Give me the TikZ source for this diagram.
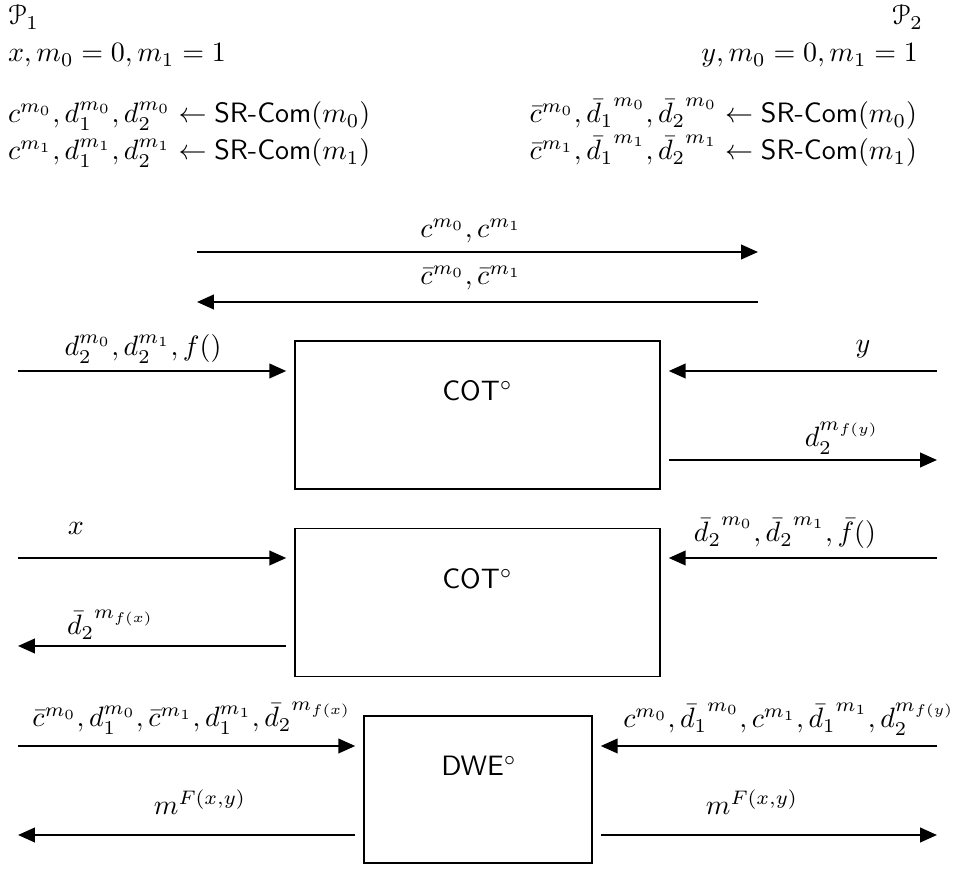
\documentclass[tikz,border=0pt]{standalone}
\usepackage[mathcal]{eucal}
\usetikzlibrary{arrows.meta}
\newcommand\bd[2]{\bar{d}_{#1}{\vphantom{\bar{d}}}^{#2}}
\begin{document}
\begin{tikzpicture}[x=0.35714pt,y=-0.35714pt,
  txt/.style={inner sep=0pt,outer sep=0pt},
  arr/.style={line width=0.7pt,-{Triangle[length=6pt,width=5.2pt]}},
  gapin/.style={shorten >=2.86pt},
  gapout/.style={shorten <=2.86pt},
  protobox/.style={draw,line width=0.55pt,rectangle,inner sep=0pt,minimum width=130.36pt,minimum height=52.86pt},
  dwebox/.style={draw,line width=0.55pt,rectangle,inner sep=0pt,minimum width=81.43pt,minimum height=52.5pt},
  boxlabel/.style={inner sep=0pt,anchor=base}]
\useasboundingbox (0,0) rectangle (954,869);

% party headers
\node[txt,anchor=base west] (p1) at (8,25) {$\mathcal{P}_1$};
\node[txt,anchor=base east] (p2) at (923,25) {$\mathcal{P}_2$};
\node[txt,anchor=base west] (in1) at (8,62) {$x, m_0=0, m_1=1$};
\node[txt,anchor=base east] (in2) at (918,62) {$y, m_0=0, m_1=1$};
\node[txt,anchor=base west] (sl1) at (8,123) {$c^{m_0}, d_1^{m_0}, d_2^{m_0} \leftarrow \textsf{SR-Com}(m_0)$};
\node[txt,anchor=base west] (sl2) at (8,160) {$c^{m_1}, d_1^{m_1}, d_2^{m_1} \leftarrow \textsf{SR-Com}(m_1)$};
\node[txt,anchor=base east] (sr1) at (917,123) {$\bar{c}^{m_0}, \bd{1}{m_0}, \bd{2}{m_0} \leftarrow \textsf{SR-Com}(m_0)$};
\node[txt,anchor=base east] (sr2) at (917,160) {$\bar{c}^{m_1}, \bd{1}{m_1}, \bd{2}{m_1} \leftarrow \textsf{SR-Com}(m_1)$};

% commitment exchange
\coordinate (ta1) at (197,252);
\coordinate (tb1) at (758,252);
\coordinate (ta2) at (758,302);
\coordinate (tb2) at (197,302);
\draw[arr] (ta1) -- (tb1);
\draw[arr] (ta2) -- (tb2);
\node[txt,anchor=base] (tl1) at (471,238) {$c^{m_0}, c^{m_1}$};
\node[txt,anchor=base] (tl2) at (471,285) {$\bar{c}^{m_0}, \bar{c}^{m_1}$};

% first COT
\node[protobox] (b1) at (477.5,415) {};
\node[boxlabel] (t1) at (477.5,401) {\textsf{COT}$^\circ$};
\coordinate (l1in) at (18,371);
\coordinate (r1in) at (937,371);
\coordinate (r1out) at (937,460);
\draw[arr,gapin] (l1in) -- (l1in -| b1.west);
\draw[arr,gapin] (r1in) -- (r1in -| b1.east);
\draw[arr,gapout] (b1.east |- r1out) -- (r1out);
\node[txt,anchor=base] (l1inl) at (143,356) {$d_2^{m_0}, d_2^{m_1}, f()$};
\node[txt,anchor=base] (r1inl) at (863,353) {$y$};
\node[txt,anchor=base] (r1outl) at (842,447) {$d_2^{m_{f(y)}}$};

% second COT
\node[protobox] (b2) at (477.5,602.5) {};
\node[boxlabel] (t2) at (477.5,589) {\textsf{COT}$^\circ$};
\coordinate (l2in) at (18,558);
\coordinate (l2out) at (18,646);
\coordinate (r2in) at (937,558);
\draw[arr,gapin] (l2in) -- (l2in -| b2.west);
\draw[arr,gapout] (b2.west |- l2out) -- (l2out);
\draw[arr,gapin] (r2in) -- (r2in -| b2.east);
\node[txt,anchor=base] (l2inl) at (76,535) {$x$};
\node[txt,anchor=base west] (l2outl) at (67,635) {$\bd{2}{m_{f(x)}}$};
\node[txt,anchor=base] (r2inl) at (785,542) {$\bd{2}{m_0}, \bd{2}{m_1}, \bar{f}()$};

% DWE
\node[dwebox] (b3) at (478,789.5) {};
\node[boxlabel] (t3) at (479,776) {\textsf{DWE}$^\circ$};
\coordinate (l3in) at (18,746);
\coordinate (l3out) at (18,835);
\coordinate (r3in) at (937,746);
\coordinate (r3out) at (937,835);
\draw[arr,gapin] (l3in) -- (l3in -| b3.west);
\draw[arr,gapout] (b3.west |- l3out) -- (l3out);
\draw[arr,gapin] (r3in) -- (r3in -| b3.east);
\draw[arr,gapout] (b3.east |- r3out) -- (r3out);
\node[txt,anchor=base] (l3inl) at (192,727) {$\bar{c}^{m_0}, d_1^{m_0}, \bar{c}^{m_1}, d_1^{m_1}, \bd{2}{m_{f(x)}}$};
\node[txt,anchor=base] (l3outl) at (200,815) {$m^{F(x,y)}$};
\node[txt,anchor=base] (r3inl) at (789,728) {$c^{m_0}, \bd{1}{m_0}, c^{m_1}, \bd{1}{m_1}, d_2^{m_{f(y)}}$};
\node[txt,anchor=base] (r3outl) at (752,815) {$m^{F(x,y)}$};
\end{tikzpicture}
\end{document}
